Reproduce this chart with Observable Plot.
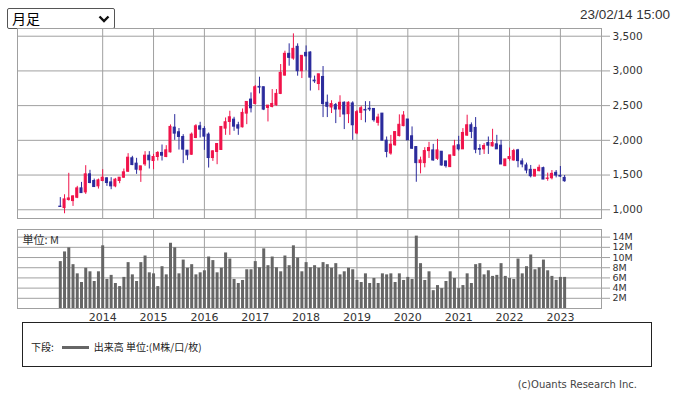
<!DOCTYPE html>
<html>
<head>
<meta charset="utf-8">
<script src="https://cdn.jsdelivr.net/npm/d3@7"></script>
<script src="https://cdn.jsdelivr.net/npm/@observablehq/plot@0.6"></script>
<style>
  html, body { margin: 0; padding: 0; background: #fff; }
  body { width: 677px; height: 396px; position: relative; overflow: hidden; font-family: "DejaVu Sans", sans-serif; color: #333; }
  #sel { position: absolute; left: 7px; top: 8px; width: 108px; height: 21px; box-sizing: border-box; border: 1px solid #555; border-radius: 2px; background: #fff; }
  #sel .lbl { position: absolute; left: 4px; top: 0; line-height: 19px; font-family: "Noto Sans CJK JP", sans-serif; font-size: 14px; color: #000; }
  #sel svg { position: absolute; right: 4px; top: 6px; }
  #date { position: absolute; right: 7px; top: 7px; font-family: "Liberation Sans", Arial, sans-serif; font-size: 13.5px; color: #333; }
  #price { position: absolute; left: 0; top: 0; }
  #vol { position: absolute; left: 0; top: 222px; }
  #legend { position: absolute; left: 22px; top: 322px; width: 630px; height: 45px; border: 1px solid #222; box-sizing: border-box; }
  #legend .t { position: absolute; left: 8px; top: 16px; font-family: "Noto Sans CJK JP", sans-serif; font-size: 10px; color: #222; white-space: nowrap; }
  #legend .sw { display: inline-block; width: 27px; height: 3px; background: #666; vertical-align: middle; margin: 0 5px 2px 8px; }
  #copy { position: absolute; right: 40px; top: 379px; font-family: "DejaVu Sans", sans-serif; font-size: 10px; color: #444; }
</style>
</head>
<body>
<div id="sel"><span class="lbl">月足</span><svg width="12" height="8" viewBox="0 0 12 8"><path d="M1.5 1.5 L6 6 L10.5 1.5" fill="none" stroke="#111" stroke-width="2.4"/></svg></div>
<div id="date">23/02/14 15:00</div>
<div id="price"></div>
<div id="vol"></div>
<div id="legend"><div class="t">下段:<span class="sw"></span>出来高 単位:(M株/口/枚)</div></div>
<div id="copy">(c)Ouants Research Inc.</div>
<script>
// Monthly candles from 2013-03 to 2023-02 (index 0 = 2013-03)
const openP  = [1045,1024,1140,1125,1173,1308,1250,1510,1414,1337,1414,1452,1394,1337,1414,1462,1548,1741,1664,1568,1654,1779,1702,1760,1818,1760,1827,2183,2116,2048,1851,1793,2034,2202,2164,2082,1745,1832,1861,2169,2265,2298,2217,2188,2385,2587,2524,2770,2765,2467,2481,2505,2669,2933,3246,3178,3347,2996,3260,3265,2860,2811,2913,2541,2473,2507,2444,2541,2377,2531,2100,2395,2438,2455,2452,2252,2385,1995,1810,1929,2062,2205,2300,2058,1903,1672,1672,1845,1855,1734,1836,1696,1614,1778,1928,1870,2068,2217,2179,1875,1870,1961,1913,1942,1923,1628,1730,1710,1855,1696,1638,1575,1478,1556,1599,1445,1454,1532,1488,1459];
const highP  = [1175,1216,1525,1202,1337,1394,1635,1568,1442,1442,1577,1462,1462,1452,1462,1587,1808,1770,1741,1625,1837,1837,1798,1837,1933,1923,2222,2371,2170,2082,1851,2106,2226,2260,2197,2106,1851,1947,2193,2322,2419,2332,2260,2452,2553,2683,2790,2909,2765,2500,2731,2731,3092,3284,3390,3534,3390,3217,3360,3275,2925,2951,3063,2652,2570,2531,2642,2555,2555,2555,2430,2490,2557,2557,2452,2376,2385,2048,2071,2119,2367,2414,2300,2193,1903,1758,1894,1971,1942,2014,1836,1696,1783,2000,2058,2169,2362,2251,2328,1937,1952,2048,2159,2072,2000,1725,1889,1870,1870,1734,1672,1638,1575,1643,1614,1527,1565,1565,1623,1493];
const lowP   = [1035,942,1125,1048,1160,1240,1221,1375,1327,1298,1404,1337,1289,1317,1375,1452,1539,1635,1510,1394,1625,1587,1577,1702,1702,1750,1818,2000,1860,1664,1712,1784,2024,2034,1856,1601,1697,1649,1861,2072,2072,2130,2072,2178,2226,2395,2510,2669,2428,2265,2467,2491,2659,2924,3068,3154,2924,2890,3000,2710,2820,2715,2328,2328,2386,2241,2328,2155,2241,2000,2080,2285,2252,2414,2262,2205,1995,1748,1786,1914,2048,2195,2000,1870,1396,1517,1604,1739,1700,1710,1628,1600,1614,1768,1846,1870,2058,2024,1807,1783,1797,1797,1903,1870,1652,1628,1700,1700,1604,1604,1517,1459,1478,1546,1435,1411,1430,1459,1464,1396];
const closeP = [1040,1149,1163,1192,1308,1240,1510,1385,1327,1423,1462,1385,1337,1433,1462,1539,1750,1644,1577,1625,1779,1712,1760,1818,1779,1856,2193,2097,2049,1866,1784,2082,2202,2154,2053,1745,1841,1947,2193,2260,2332,2197,2169,2395,2553,2462,2765,2760,2443,2500,2524,2669,2972,3246,3188,3318,2996,3217,3210,2903,2850,2951,2522,2483,2522,2444,2541,2372,2541,2217,2405,2462,2430,2445,2290,2328,1995,1833,1938,2119,2224,2357,2000,1879,1672,1710,1845,1889,1710,1855,1638,1628,1783,1913,1870,2106,2217,2121,1865,1865,1918,1923,1961,1870,1652,1725,1759,1845,1701,1652,1565,1483,1575,1604,1435,1450,1517,1493,1478,1411];
// Volume (millions)
const volume = [9.2,11.1,11.9,8.6,6.8,5.1,7.9,7.2,5.3,7.2,12.3,5.7,6.5,4.9,4.3,6.1,9.0,6.6,5.3,9.0,10.3,7.0,6.8,4.3,8.2,6.6,12.8,11.9,6.8,9.5,7.9,8.6,6.6,7.0,7.4,10.1,9.4,7.0,7.9,10.9,9.7,5.7,4.9,5.5,7.6,7.6,9.2,8.0,11.7,8.4,10.1,8.0,7.2,10.3,8.4,12.3,9.9,7.2,9.0,8.0,8.4,7.9,9.0,8.6,7.9,8.8,6.6,7.2,7.9,7.6,5.5,5.1,6.8,4.9,5.9,4.9,6.8,6.6,6.8,5.1,6.8,5.5,6.1,5.7,14.2,8.8,5.5,7.2,3.5,4.5,3.9,5.3,7.2,5.9,3.9,4.5,6.8,4.9,8.6,8.8,6.6,7.4,6.3,6.5,8.8,6.3,5.9,5.7,9.7,6.8,8.2,10.5,7.6,8.0,9.5,7.4,6.3,5.5,6.1,6.1];
const yearLabels = ["2014","2015","2016","2017","2018","2019","2020","2021","2022","2023"];
const priceTicks = [1000,1500,2000,2500,3000,3500];
const volTicks = [2,4,6,8,10,12,14];

const UP = "#f0134a", DOWN = "#2b2b9c";
const candles = openP.map((o, i) => ({t: i, open: o, high: highP[i], low: lowP[i], close: closeP[i], vol: volume[i],
  color: closeP[i] >= o ? UP : DOWN}));
// January of each year, as month index from 2013-03
const yearIdx = yearLabels.map(y => (+y - 2013) * 12 - 2);
const xDomain = [-10.1, 127.7];
const GRID = "#a0a0a0";

const price = Plot.plot({
  width: 677, height: 222,
  marginLeft: 17, marginRight: 76, marginTop: 28, marginBottom: 4,
  style: {fontFamily: "DejaVu Sans", fontSize: "10.5px", color: "#333", background: "transparent"},
  x: {domain: xDomain, axis: null},
  y: {domain: [874, 3611], axis: null},
  color: {type: "identity"},
  marks: [
    Plot.ruleY(priceTicks, {stroke: GRID, strokeWidth: 1}),
    Plot.ruleX(yearIdx, {stroke: GRID, strokeWidth: 1}),
    Plot.frame({stroke: GRID}),
    Plot.axisY(priceTicks, {anchor: "right", tickSize: 8, tickPadding: 3, stroke: GRID, strokeOpacity: 1, fill: "#333", tickFormat: d3.format(","), label: null}),
    Plot.ruleX(candles, {x: "t", y1: "low", y2: "high", stroke: "color", strokeWidth: 1}),
    Plot.rect(candles, {x1: d => d.t - 0.24, x2: d => d.t + 0.24, y1: "open", y2: "close", fill: "color", stroke: "color", strokeWidth: 1})
  ]
});
document.getElementById("price").append(price);

const vol = Plot.plot({
  width: 677, height: 104,
  marginLeft: 17, marginRight: 76, marginTop: 7, marginBottom: 18,
  style: {fontFamily: "DejaVu Sans", fontSize: "10.5px", color: "#333", background: "transparent"},
  x: {domain: xDomain, axis: null},
  y: {domain: [0, 15.5], axis: null},
  marks: [
    Plot.ruleY(volTicks, {stroke: GRID, strokeWidth: 1}),
    Plot.ruleX(yearIdx, {stroke: GRID, strokeWidth: 1}),
    Plot.frame({stroke: GRID}),
    Plot.axisY(volTicks, {anchor: "right", tickSize: 8, tickPadding: 3, stroke: GRID, strokeOpacity: 1, fill: "#333", tickFormat: d => d + "M", label: null, fontSize: 9.5}),
    Plot.axisX(yearIdx, {anchor: "bottom", tickSize: 0, tickPadding: 5, fill: "#333", tickFormat: (d, i) => yearLabels[i], label: null, fontSize: 11}),
    Plot.ruleX(candles, {x: "t", y1: 0, y2: "vol", stroke: "#666", strokeWidth: 3}),
    Plot.text(["単位: M"], {frameAnchor: "top-left", dx: 5, dy: 7, text: d => d, fill: "#333", fontSize: 11, fontFamily: "Noto Sans CJK JP", textAnchor: "start"})
  ]
});
document.getElementById("vol").append(vol);
</script>
</body>
</html>
